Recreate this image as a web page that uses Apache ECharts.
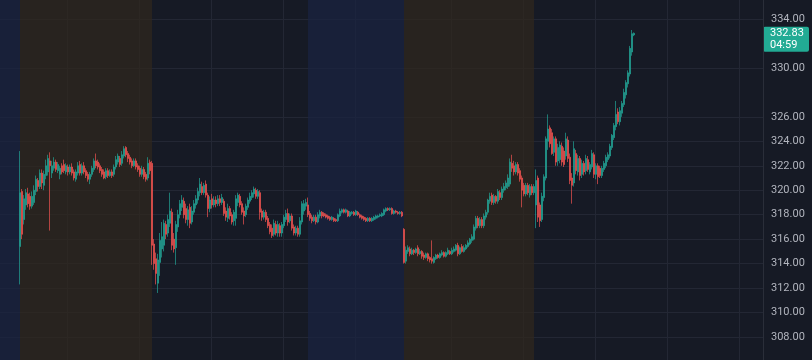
<!DOCTYPE html>
<html><head><meta charset="utf-8">
<script src="https://cdn.jsdelivr.net/npm/echarts@6/dist/echarts.min.js"></script>
<style>html,body{margin:0;padding:0;background:#161a25;}#c{width:812px;height:360px;}</style>
</head><body><div id="c"></div>
<script>
// Sessions: [date, start time, number of 5-minute bars, session type]
const sessions = [
  ['05-16', '19:10', 10, 'post'],
  ['05-17', '04:00', 66, 'pre'],
  ['05-17', '09:30', 78, 'reg'],
  ['05-17', '16:00', 48, 'post'],
  ['05-20', '04:00', 66, 'pre'],
  ['05-20', '09:30', 78, 'reg'],
  ['05-20', '16:00', 36, 'post']
];
// Candles: [open, close, low, high]
const pre1 = [
[315.4,319.8,312.3,323.2],[319.9,316.4,316.0,320.1],[317.6,319.3,317.2,319.6],[318.8,319.8,318.4,320.1],
[319.7,318.9,318.6,320.2],[319.5,318.7,318.4,319.8],[318.7,319.5,318.5,319.9],[319.0,320.0,318.8,320.4],
[319.9,320.9,319.6,321.2],[320.8,320.3,319.9,321.0],[320.3,321.4,320.1,321.7],[321.4,320.6,320.1,321.7],
[320.4,321.3,320.0,321.6],[321.2,322.0,320.9,322.5],[321.5,322.6,321.2,322.9],[322.4,322.0,316.7,323.1],
[321.4,322.0,321.0,322.4],[321.8,322.3,321.6,322.7],[322.3,321.7,321.5,322.5],[321.6,322.1,321.4,322.3],
[321.3,321.8,320.9,322.0],[322.0,321.5,321.3,322.2],[322.1,321.6,321.4,322.5],[321.5,322.0,321.3,322.2],
[321.9,321.5,321.2,322.1],[321.5,321.9,321.3,322.1],[321.9,321.4,321.2,322.2],[321.5,321.0,320.8,321.7],
[320.9,321.5,320.7,321.7],[321.4,322.0,321.2,322.3],[322.1,321.4,321.2,322.4],[321.4,322.0,321.2,322.2],
[322.0,321.5,321.3,322.3],[321.6,321.2,321.0,321.8],[321.3,320.9,320.7,321.5],[320.9,321.3,320.5,321.5],
[321.3,321.8,321.1,322.0],[321.7,322.4,321.5,322.6],[322.4,322.0,321.8,323.0],[322.3,321.9,321.7,322.5],
[322.0,321.6,321.4,322.2],[321.7,321.3,321.1,321.9],[321.5,321.0,320.9,321.7],[321.1,321.6,320.9,321.8],
[321.6,321.2,321.0,321.8],[321.2,321.5,321.1,321.7],[321.5,321.2,321.0,321.7],[321.3,321.9,321.1,322.1],
[321.9,322.5,321.7,322.8],[322.3,322.8,322.1,323.0],[322.6,322.1,321.9,322.8],[322.2,322.9,322.0,323.2],
[322.8,323.4,322.6,323.6],[323.5,322.9,322.7,323.6],[323.0,322.6,322.3,323.2],[322.7,322.3,322.1,322.9],
[322.4,322.0,321.8,322.6],[322.0,322.4,321.9,322.6],[322.4,321.9,321.7,322.6],[322.0,321.7,321.5,322.2],
[321.8,321.3,321.1,322.0],[321.3,321.7,321.1,322.0],[321.7,321.1,320.9,321.9],[321.3,320.9,320.7,321.5],
[321.0,322.2,320.8,322.7],[322.3,321.6,321.3,322.5]
];
const reg1 = [
[322.2,315.5,313.9,322.4],[315.6,314.0,313.5,316.0],[314.4,313.2,312.3,314.9],[312.4,314.3,311.6,314.8],
[314.1,315.9,313.0,316.5],[315.2,316.2,314.5,317.4],[315.5,317.3,315.0,317.6],[317.2,316.4,316.0,317.5],
[316.5,317.6,316.2,318.0],[317.3,318.3,317.0,319.8],[318.2,315.5,315.1,318.5],[316.0,315.2,314.9,316.5],
[315.3,317.2,313.9,317.5],[317.0,318.0,316.6,318.4],[318.0,318.9,317.7,319.2],[318.6,319.2,318.3,319.6],
[319.1,318.0,317.7,319.4],[318.5,317.6,317.3,318.9],[317.6,318.4,317.1,318.7],[318.6,317.3,316.9,318.9],
[317.4,318.3,317.2,318.7],[318.2,318.9,318.0,319.2],[318.8,319.3,318.5,319.6],[319.2,319.9,318.9,320.2],
[319.8,320.5,319.5,321.0],[320.3,319.8,319.6,320.7],[319.8,320.4,319.6,320.6],[320.5,319.6,319.4,320.8],
[319.6,318.5,317.8,319.8],[318.5,319.2,318.2,319.5],[319.3,318.8,318.5,319.7],[318.8,319.2,318.6,319.5],
[319.2,318.9,318.6,319.5],[318.9,319.3,318.7,319.6],[319.3,319.0,318.7,319.6],[319.0,319.4,318.8,319.7],
[319.1,318.1,317.9,319.3],[318.3,317.8,317.5,318.6],[317.7,318.5,317.4,318.9],[318.5,317.9,317.6,318.7],
[318.0,317.4,317.2,318.2],[317.5,318.2,317.1,318.4],[317.7,319.3,317.1,319.6],[319.0,319.6,318.7,319.8],
[319.5,318.8,318.6,319.7],[318.9,318.2,318.0,319.1],[318.3,317.9,317.2,318.6],[318.0,318.7,317.8,318.9],
[318.6,319.2,318.4,319.4],[319.1,319.5,318.9,319.8],[319.4,319.8,319.2,320.0],[319.7,320.1,319.4,320.3],
[320.0,319.5,319.3,320.2],[319.5,319.9,319.3,320.1],[319.8,318.2,317.6,320.0],[318.3,317.8,317.5,318.5],
[317.8,318.2,317.6,318.4],[318.2,317.6,317.4,318.4],[317.7,317.1,316.9,317.9],[317.2,316.6,316.4,317.4],
[316.9,316.3,316.1,317.2],[316.4,317.3,316.2,317.6],[317.2,316.5,316.3,317.5],[316.5,317.2,316.2,317.5],
[317.1,316.5,316.2,317.3],[316.5,317.2,316.2,317.4],[317.1,317.8,316.9,318.0],[317.6,318.1,317.4,318.4],
[318.1,317.4,317.1,318.5],[317.5,317.9,317.3,318.1],[317.9,316.9,316.7,318.1],[317.0,316.5,316.3,317.2],
[316.5,316.9,316.3,317.1],[316.9,316.4,316.2,317.1],[316.4,317.5,316.2,317.8],[317.4,318.9,317.2,319.1],
[318.3,318.9,318.0,319.2],[318.7,319.0,318.4,319.3]
];
const post1 = [
[318.8,318.0,317.8,319.4],[318.1,317.7,317.5,318.3],[317.8,317.5,317.3,318.0],[317.5,317.8,317.4,318.0],
[317.8,317.4,317.2,318.0],[317.4,318.0,317.3,318.2],[317.9,318.2,317.7,318.4],[318.2,317.9,317.7,318.3],
[318.1,317.9,317.8,318.2],[318.0,317.8,317.7,318.1],[317.9,317.7,317.6,318.0],[317.8,317.6,317.5,317.9],
[317.6,317.8,317.5,317.9],[317.7,317.5,317.4,317.8],[317.6,317.5,317.4,317.7],[317.5,318.0,317.4,318.1],
[317.9,318.3,317.8,318.5],[318.2,318.4,318.1,318.5],[318.4,318.2,318.1,318.5],[318.2,318.4,318.1,318.5],
[318.3,317.9,317.8,318.4],[317.9,318.2,317.8,318.3],[318.1,318.2,318.0,318.3],[318.2,318.0,317.9,318.3],
[318.0,318.3,317.9,318.4],[318.2,318.0,317.9,318.3],[318.0,317.8,317.7,318.1],[317.9,317.7,317.6,318.0],
[317.8,317.6,317.5,317.9],[317.7,317.5,317.4,317.8],[317.5,317.7,317.4,317.8],[317.7,317.5,317.4,317.8],
[317.5,317.7,317.4,317.8],[317.6,317.8,317.5,317.9],[317.7,317.9,317.6,318.0],[317.8,317.9,317.7,318.0],
[317.9,318.0,317.8,318.1],[317.9,318.1,317.8,318.2],[318.0,318.4,317.9,318.5],[318.3,318.5,318.2,318.6],
[318.5,318.4,318.3,318.6],[318.4,318.5,318.3,318.6],[318.5,318.1,318.0,318.6],[318.1,318.3,318.0,318.4],
[318.3,318.2,318.1,318.4],[318.2,318.1,318.0,318.3],[318.1,318.2,318.0,318.3],[318.2,317.9,317.8,318.3]
];
const pre2 = [
[316.8,314.1,314.0,316.9],[314.2,315.1,314.0,315.4],[315.0,315.3,314.8,315.5],[315.2,314.8,314.6,315.4],
[314.8,315.1,314.7,315.3],[315.1,314.9,314.7,315.2],[314.9,315.2,314.8,315.3],[315.3,314.8,314.6,315.5],
[314.8,315.0,314.7,315.2],[315.0,314.6,314.4,315.1],[314.7,314.5,314.3,314.9],[314.5,314.8,314.4,314.9],
[314.8,314.4,314.2,314.9],[314.5,314.3,314.1,314.6],[314.4,314.2,314.0,315.9],[314.1,314.5,314.0,314.6],
[314.4,314.7,314.3,314.8],[314.7,314.5,314.4,314.8],[314.5,314.8,314.4,314.9],[314.7,314.9,314.6,315.1],
[314.9,314.6,314.5,315.0],[314.6,314.9,314.5,315.0],[314.8,315.1,314.7,315.3],[315.0,314.8,314.7,315.1],
[314.8,315.1,314.7,315.3],[315.0,315.2,314.9,315.4],[315.1,315.5,315.0,315.6],[315.5,314.8,314.6,315.7],
[314.8,315.3,314.7,315.4],[315.4,315.0,314.9,315.6],[315.0,315.3,314.9,315.5],[315.2,315.5,315.1,315.6],
[315.4,315.7,315.3,315.9],[315.6,316.0,315.5,316.1],[315.9,316.2,315.7,316.4],[316.0,317.0,315.9,317.2],
[316.9,317.7,316.7,317.9],[317.7,317.1,316.9,317.9],[317.1,317.6,316.9,317.8],[317.6,317.1,316.9,317.8],
[317.1,317.9,316.9,318.1],[317.8,318.2,317.6,318.4],[318.2,319.2,318.0,319.3],[319.1,319.5,318.9,319.8],
[319.6,319.0,318.8,319.8],[319.0,319.5,318.8,319.7],[319.5,319.1,318.9,319.6],[319.1,319.9,318.9,320.1],
[319.8,319.4,319.2,320.0],[319.4,320.1,319.2,320.3],[320.0,320.3,319.8,320.6],[320.2,320.6,320.0,320.8],
[320.3,321.0,320.1,321.3],[320.5,322.3,320.3,322.6],[322.2,321.8,321.5,322.9],[322.0,321.5,321.2,322.4],
[321.5,322.1,321.3,322.3],[322.1,321.4,321.2,322.3],[321.6,320.9,320.7,321.8],[321.0,320.0,318.6,321.2],
[320.4,319.7,319.5,320.6],[319.7,320.4,319.5,320.6],[320.4,319.8,319.6,320.6],[319.6,320.3,319.4,320.5],
[320.3,319.8,319.6,320.5],[319.8,320.3,319.6,320.5]
];
const reg2 = [
[318.8,320.8,316.9,321.7],[321.0,317.8,317.4,321.2],[318.8,317.5,317.0,319.0],[317.6,319.5,317.4,319.8],
[319.4,321.1,319.1,321.3],[321.0,324.2,320.8,324.4],[324.0,325.0,323.3,326.2],[325.1,323.8,323.5,325.3],
[324.7,323.0,322.9,325.0],[323.1,324.2,322.8,324.4],[324.2,322.3,322.0,324.4],[322.4,323.5,322.0,323.8],
[322.5,323.7,322.2,324.0],[323.6,322.3,322.0,323.9],[323.2,322.1,321.9,323.5],[322.8,324.2,322.5,324.7],
[324.1,322.6,322.3,324.4],[322.7,320.8,320.5,323.0],[321.0,320.4,318.9,321.4],[320.6,323.4,320.3,324.0],
[323.0,321.6,321.3,323.3],[321.5,322.6,321.2,322.9],[322.6,321.2,320.8,322.8],[321.3,322.2,321.0,322.5],
[322.2,321.5,321.2,322.4],[321.6,322.6,321.3,322.9],[322.5,321.7,321.5,322.8],[321.5,322.1,321.3,322.3],
[321.9,323.0,321.7,323.3],[322.9,321.3,321.0,323.1],[321.3,322.0,320.9,322.2],[322.0,321.1,320.5,322.2],
[321.8,321.2,321.0,322.0],[321.2,321.8,321.0,322.0],[321.7,322.2,321.5,322.4],[322.0,322.7,321.8,322.9],
[322.5,322.9,322.3,323.1],[322.8,323.6,322.6,323.8],[323.5,324.5,323.3,324.6],[324.3,325.3,324.1,325.5],
[325.2,326.2,324.9,327.3],[326.4,325.6,325.4,326.7],[325.6,326.5,325.3,326.8],[326.3,327.1,326.0,327.3],
[327.0,328.0,326.8,328.3],[327.8,328.8,327.5,329.0],[328.7,329.6,328.4,329.8],[329.5,331.6,329.3,331.8],
[331.3,332.8,331.0,333.1],[332.7,332.83,332.6,332.9]
];
const lastPrice = 332.83;
const countdown = '04:59';
const yMin = 306, yMax = 336, yStep = 2;
const hiddenTicks = [306, 328, 332, 336];
const gridHours = ['06:00', '09:00', '12:00', '15:00', '18:00'];

// categories
const categories = [];
const sessionStarts = [];
for (const [d, t, n, type] of sessions) {
  sessionStarts.push({ idx: categories.length, n, type });
  let [h, m] = t.split(':').map(Number);
  for (let i = 0; i < n; i++) {
    categories.push(d + ' ' + String(h).padStart(2, '0') + ':' + String(m).padStart(2, '0'));
    m += 5; if (m >= 60) { m -= 60; h++; }
  }
}
const candles = [];
for (let i = 0; i < sessions[0][2]; i++) candles.push('-');
for (const arr of [pre1, reg1, post1, pre2, reg2]) for (const c of arr) candles.push(c);
while (candles.length < categories.length) candles.push('-');

const BG = '#161a25';
const GRID = '#232734';
const BROWN = 'rgba(48,40,28,0.7)';
const BLUE = 'rgba(25,35,66,0.7)';
const UP = '#22a495';
const DOWN = '#ef5350';

const ss = sessionStarts;
const areas = [
  [{ xAxis: categories[ss[0].idx], itemStyle: { color: BLUE } }, { xAxis: categories[ss[1].idx] }],
  [{ xAxis: categories[ss[1].idx], itemStyle: { color: BROWN } }, { xAxis: categories[ss[2].idx] }],
  [{ xAxis: categories[ss[3].idx], itemStyle: { color: BLUE } }, { xAxis: categories[ss[4].idx] }],
  [{ xAxis: categories[ss[4].idx], itemStyle: { color: BROWN } }, { xAxis: categories[ss[4].idx + ss[4].n - 1] }]
];

const tickCount = (yMax - yMin) / yStep + 1;
const splitColors = [];
for (let i = 0; i < tickCount; i++) {
  const v = yMin + i * yStep;
  splitColors.push(hiddenTicks.includes(v) ? 'rgba(0,0,0,0)' : GRID);
}

const chart = echarts.init(document.getElementById('c'), null, { renderer: 'canvas' });
chart.setOption({
  animation: false,
  backgroundColor: BG,
  grid: { left: -1, right: 49, top: -5.46, bottom: -1.46, containLabel: false, outerBoundsMode: 'none' },
  xAxis: {
    type: 'category', data: categories, boundaryGap: true,
    axisLine: { show: false }, axisTick: { show: false }, axisLabel: { show: false },
    splitLine: {
      show: true,
      interval: (i, v) => gridHours.includes(String(v).slice(-5)),
      lineStyle: { color: GRID, width: 1 }
    }
  },
  yAxis: {
    type: 'value', position: 'right', min: yMin, max: yMax, interval: yStep, scale: true,
    axisLine: { show: true, lineStyle: { color: '#2a2e39' } },
    axisTick: { show: false },
    axisLabel: {
      margin: 8, color: '#b2b5be', fontSize: 11, fontFamily: 'Roboto, "Noto Sans", sans-serif',
      showMinLabel: false, showMaxLabel: false,
      formatter: v => hiddenTicks.includes(v) ? '' : v.toFixed(2)
    },
    splitLine: { show: true, lineStyle: { color: splitColors, width: 1 } }
  },
  series: [{
    type: 'candlestick',
    data: candles,
    barWidth: 1.4,
    itemStyle: { color: UP, color0: DOWN, borderColor: UP, borderColor0: DOWN, borderWidth: 0.7 },
    markArea: { silent: true, data: areas }
  }]
});

const py = chart.convertToPixel({ yAxisIndex: 0 }, lastPrice);
const axisX = chart.getWidth() - 49;
chart.setOption({
  graphic: [{
    type: 'group', children: [
      { type: 'rect', shape: { x: axisX, y: py - 6.5, width: 46, height: 25, r: 2 }, style: { fill: '#22ab94' } },
      { type: 'text', x: axisX + 7, y: py, style: { text: lastPrice.toFixed(2), fill: '#ffffff', font: '11px Roboto, "Noto Sans", sans-serif', verticalAlign: 'middle' } },
      { type: 'text', x: axisX + 7, y: py + 12, style: { text: countdown, fill: '#ffffff', font: '11px Roboto, "Noto Sans", sans-serif', verticalAlign: 'middle' } }
    ]
  }]
});
</script>
</body></html>
